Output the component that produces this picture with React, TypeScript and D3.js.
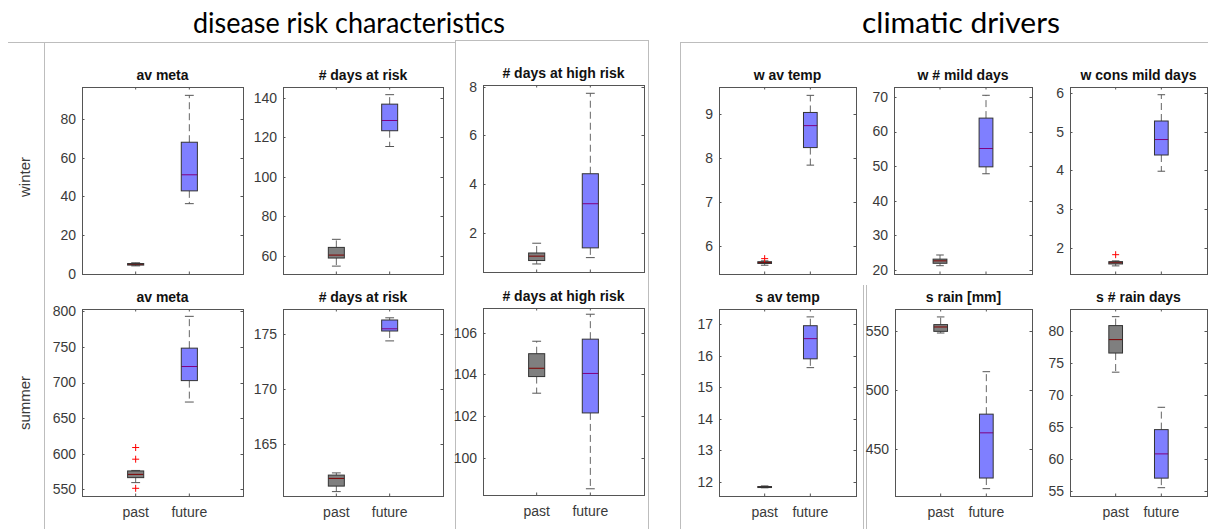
import React from "react";
import * as d3 from "d3";

const categories = ["past", "future"];

// five-number summaries: [lower whisker, q1, median, q3, upper whisker]
const avMetaWinterPast = [4.2, 4.6, 5.0, 5.4, 5.8];
const avMetaWinterFuture = [36.3, 42.9, 51.2, 68.0, 92.2];
const daysRiskWinterPast = [54.7, 58.8, 60.3, 64.2, 68.3];
const daysRiskWinterFuture = [115.4, 123.4, 128.6, 136.9, 141.7];
const highRiskWinterPast = [0.73, 0.87, 1.05, 1.18, 1.58];
const highRiskWinterFuture = [0.99, 1.39, 3.2, 4.43, 7.73];

const avMetaSummerPast = [559.4, 566.4, 571.0, 575.8, 576.5];
const avMetaSummerPastOutliers = [608.7, 592.3, 551.4];
const avMetaSummerFuture = [672.6, 702.7, 722.5, 748.3, 793.0];
const daysRiskSummerPast = [160.7, 161.2, 161.9, 162.2, 162.4];
const daysRiskSummerFuture = [174.4, 175.3, 175.5, 176.3, 176.5];
const highRiskSummerPast = [103.1, 103.9, 104.3, 105.0, 105.6];
const highRiskSummerFuture = [98.5, 102.15, 104.05, 105.7, 106.9];

const wAvTempPast = [5.56, 5.6, 5.62, 5.64, 5.66];
const wAvTempPastOutliers = [5.71];
const wAvTempFuture = [7.84, 8.24, 8.74, 9.04, 9.43];
const wMildDaysPast = [21.2, 21.9, 22.6, 23.1, 24.3];
const wMildDaysFuture = [47.8, 49.8, 55.1, 63.9, 70.5];
const wConsMildPast = [1.53, 1.58, 1.61, 1.64, 1.66];
const wConsMildPastOutliers = [1.82];
const wConsMildFuture = [3.98, 4.4, 4.8, 5.28, 5.96];

const sAvTempPast = [11.81, 11.83, 11.84, 11.85, 11.87];
const sAvTempFuture = [15.62, 15.9, 16.54, 16.95, 17.23];
const sRainPast = [548.0, 549.4, 553.1, 555.1, 561.6];
const sRainFuture = [416.4, 425.4, 463.6, 479.4, 515.3];
const sRainDaysPast = [73.6, 76.6, 78.7, 80.9, 82.3];
const sRainDaysFuture = [55.5, 57.0, 60.8, 64.6, 68.1];

// y-axis ticks and limits
const ticksAvMetaW = [0, 20, 40, 60, 80];
const ticksDaysRiskW = [60, 80, 100, 120, 140];
const ticksHighRiskW = [2, 4, 6, 8];
const ticksAvMetaS = [550, 600, 650, 700, 750, 800];
const ticksDaysRiskS = [165, 170, 175];
const ticksHighRiskS = [100, 102, 104, 106];
const ticksWAvTemp = [6, 7, 8, 9];
const ticksWMild = [20, 30, 40, 50, 60, 70];
const ticksWCons = [2, 3, 4, 5, 6];
const ticksSAvTemp = [12, 13, 14, 15, 16, 17];
const ticksSRain = [450, 500, 550];
const ticksSRainDays = [55, 60, 65, 70, 75, 80];

const limAvMetaW = [0, 96.5];
const limDaysRiskW = [50.7, 145.6];
const limHighRiskW = [0.4, 8.07];
const limAvMetaS = [540.6, 803.3];
const limDaysRiskS = [160.3, 177.3];
const limHighRiskS = [98.2, 107.2];
const limWAvTemp = [5.36, 9.62];
const limWMild = [18.8, 72.9];
const limWCons = [1.32, 6.16];
const limSAvTemp = [11.55, 17.48];
const limSRain = [410.2, 568.3];
const limSRainDays = [54.2, 83.5];

const sectionTitles = ["disease risk characteristics", "climatic drivers"];
const rowLabels = ["winter", "summer"];

type Panel = {
  title: string;
  past: number[];
  future: number[];
  pastOut?: number[];
  futureOut?: number[];
  ticks: number[];
  lim: number[];
  x: number;
  y: number;
  w: number;
  h: number;
  xlabels: boolean;
};

const panels: Panel[] = [
  { title: "av meta", past: avMetaWinterPast, future: avMetaWinterFuture, ticks: ticksAvMetaW, lim: limAvMetaW, x: 82, y: 87, w: 161, h: 187, xlabels: false },
  { title: "# days at risk", past: daysRiskWinterPast, future: daysRiskWinterFuture, ticks: ticksDaysRiskW, lim: limDaysRiskW, x: 283, y: 87, w: 160, h: 187, xlabels: false },
  { title: "# days at high risk", past: highRiskWinterPast, future: highRiskWinterFuture, ticks: ticksHighRiskW, lim: limHighRiskW, x: 483, y: 85, w: 161, h: 187, xlabels: false },
  { title: "av meta", past: avMetaSummerPast, pastOut: avMetaSummerPastOutliers, future: avMetaSummerFuture, ticks: ticksAvMetaS, lim: limAvMetaS, x: 82, y: 309, w: 161, h: 187, xlabels: true },
  { title: "# days at risk", past: daysRiskSummerPast, future: daysRiskSummerFuture, ticks: ticksDaysRiskS, lim: limDaysRiskS, x: 283, y: 309, w: 160, h: 187, xlabels: true },
  { title: "# days at high risk", past: highRiskSummerPast, future: highRiskSummerFuture, ticks: ticksHighRiskS, lim: limHighRiskS, x: 483, y: 308, w: 161, h: 187, xlabels: true },
  { title: "w av temp", past: wAvTempPast, pastOut: wAvTempPastOutliers, future: wAvTempFuture, ticks: ticksWAvTemp, lim: limWAvTemp, x: 719, y: 87, w: 137, h: 187, xlabels: false },
  { title: "w # mild days", past: wMildDaysPast, future: wMildDaysFuture, ticks: ticksWMild, lim: limWMild, x: 894, y: 87, w: 138, h: 187, xlabels: false },
  { title: "w cons mild days", past: wConsMildPast, pastOut: wConsMildPastOutliers, future: wConsMildFuture, ticks: ticksWCons, lim: limWCons, x: 1070, y: 87, w: 137, h: 187, xlabels: false },
  { title: "s av temp", past: sAvTempPast, future: sAvTempFuture, ticks: ticksSAvTemp, lim: limSAvTemp, x: 719, y: 309, w: 137, h: 187, xlabels: true },
  { title: "s rain [mm]", past: sRainPast, future: sRainFuture, ticks: ticksSRain, lim: limSRain, x: 895, y: 309, w: 137, h: 187, xlabels: true },
  { title: "s # rain days", past: sRainDaysPast, future: sRainDaysFuture, ticks: ticksSRainDays, lim: limSRainDays, x: 1070, y: 309, w: 137, h: 187, xlabels: true },
];

const AXIS = "#555";
const TEXT = "#3a3a3a";
const DIV = "#bdbdbd";
const FONT = "'Liberation Sans', Arial, Helvetica, sans-serif";

function BoxPlot({ p }: { p: Panel }) {
  const x = d3.scalePoint<string>().domain(categories).range([p.x, p.x + p.w]).padding(1);
  const y = d3.scaleLinear().domain(p.lim).range([p.y + p.h, p.y]);
  const step = x.step();
  const bw = step * 0.3;
  const cw = bw * 0.55;
  const series = [
    { key: "past", s: p.past, out: p.pastOut || [], fill: "#000000" },
    { key: "future", s: p.future, out: p.futureOut || [], fill: "#0000ff" },
  ];
  const tl = 2.5;
  return (
    <g>
      <rect x={p.x + 0.5} y={p.y + 0.5} width={p.w} height={p.h} fill="#fff" stroke="none" />
      {series.map((d) => {
        const cx = x(d.key) as number;
        const [lo, q1, med, q3, hi] = d.s;
        return (
          <g key={d.key}>
            <line x1={cx} x2={cx} y1={y(q3)} y2={y(hi)} stroke="#666" strokeDasharray="7,4" strokeWidth={1} />
            <line x1={cx} x2={cx} y1={y(q1)} y2={y(lo)} stroke="#666" strokeDasharray="7,4" strokeWidth={1} />
            <line x1={cx - cw / 2} x2={cx + cw / 2} y1={y(hi)} y2={y(hi)} stroke="#555" strokeWidth={1} />
            <line x1={cx - cw / 2} x2={cx + cw / 2} y1={y(lo)} y2={y(lo)} stroke="#555" strokeWidth={1} />
            <line x1={cx - bw / 2} x2={cx + bw / 2} y1={y(med)} y2={y(med)} stroke="#ff0000" strokeWidth={1} />
            <rect
              x={cx - bw / 2}
              y={y(q3)}
              width={bw}
              height={Math.max(1, y(q1) - y(q3))}
              fill={d.fill}
              fillOpacity={0.5}
              stroke="#333"
              strokeWidth={1}
            />
            {d.out.map((o, i) => (
              <g key={i} stroke="#ff0000" strokeWidth={1}>
                <line x1={cx - 3.5} x2={cx + 3.5} y1={y(o)} y2={y(o)} />
                <line x1={cx} x2={cx} y1={y(o) - 3.5} y2={y(o) + 3.5} />
              </g>
            ))}
          </g>
        );
      })}
      <rect x={p.x + 0.5} y={p.y + 0.5} width={p.w} height={p.h} fill="none" stroke={AXIS} strokeWidth={1} />
      {p.ticks.map((t) => (
        <g key={t}>
          <line x1={p.x} x2={p.x + tl} y1={Math.round(y(t)) + 0.5} y2={Math.round(y(t)) + 0.5} stroke={AXIS} />
          <line x1={p.x + p.w - tl} x2={p.x + p.w} y1={Math.round(y(t)) + 0.5} y2={Math.round(y(t)) + 0.5} stroke={AXIS} />
          <text x={p.x - 6} y={y(t)} dy="0.35em" textAnchor="end" fontSize={14} fill={TEXT} fontFamily={FONT}>
            {t}
          </text>
        </g>
      ))}
      {categories.map((c) => (
        <g key={c}>
          <line x1={(x(c) as number)} x2={(x(c) as number)} y1={p.y} y2={p.y + tl} stroke={AXIS} />
          <line x1={(x(c) as number)} x2={(x(c) as number)} y1={p.y + p.h - tl} y2={p.y + p.h} stroke={AXIS} />
          {p.xlabels && (
            <text x={x(c) as number} y={p.y + p.h + 21} textAnchor="middle" fontSize={14} fill={TEXT} fontFamily={FONT}>
              {c}
            </text>
          )}
        </g>
      ))}
      <text x={p.x + p.w / 2} y={p.y - 7} textAnchor="middle" fontSize={14} fontWeight="bold" fill="#111" fontFamily={FONT}>
        {p.title}
      </text>
    </g>
  );
}

export default function App() {
  return (
    <svg
      width={1208}
      height={529}
      style={{ position: "absolute", left: 0, top: 0, background: "#fff" }}
      xmlns="http://www.w3.org/2000/svg"
    >
      <rect x={0} y={0} width={1208} height={529} fill="#fff" />
      {/* section titles */}
      <text x={349} y={33} textAnchor="middle" fontSize={28} fontFamily="Lato, 'Open Sans', sans-serif" fill="#000" textLength={312} lengthAdjust="spacingAndGlyphs">
        {sectionTitles[0]}
      </text>
      <text x={961} y={33} textAnchor="middle" fontSize={28} fontFamily="Lato, 'Open Sans', sans-serif" fill="#000" textLength={198} lengthAdjust="spacingAndGlyphs">
        {sectionTitles[1]}
      </text>
      {/* dividers */}
      <g stroke={DIV} strokeWidth={1} fill="none">
        <line x1={8} x2={455} y1={42.5} y2={42.5} />
        <line x1={44.5} x2={44.5} y1={42} y2={529} />
        <line x1={455.5} x2={455.5} y1={40} y2={529} />
        <line x1={648.5} x2={648.5} y1={40} y2={529} />
        <line x1={455} x2={649} y1={40.5} y2={40.5} />
        <line x1={680} x2={1208} y1={42.5} y2={42.5} />
        <line x1={680.5} x2={680.5} y1={42} y2={529} />
        <line x1={863.5} x2={863.5} y1={285} y2={529} />
        <line x1={866.5} x2={866.5} y1={285} y2={529} />
      </g>
      {/* row labels */}
      <text transform="translate(25,177) rotate(-90)" textAnchor="middle" dy="0.35em" fontSize={15} fill={TEXT} fontFamily={FONT}>
        {rowLabels[0]}
      </text>
      <text transform="translate(25,403) rotate(-90)" textAnchor="middle" dy="0.35em" fontSize={15} fill={TEXT} fontFamily={FONT}>
        {rowLabels[1]}
      </text>
      {panels.map((p, i) => (
        <BoxPlot key={i} p={p} />
      ))}
    </svg>
  );
}
